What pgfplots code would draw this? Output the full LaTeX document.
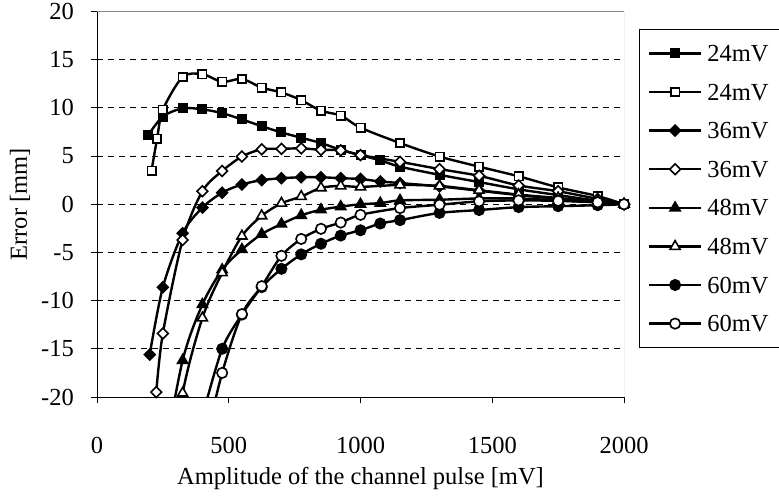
\documentclass[border=0pt]{standalone}
\usepackage{fontspec}
\setmainfont{Liberation Serif}
\usepackage{pgfplots}
\pgfplotsset{compat=1.18}
\newcommand\cf{\fontsize{24.5}{29}\selectfont}
\tikzset{
 s1/.style={black, line width=2.4pt, mark=square*, mark size=4.2pt, mark options={solid, line width=1.6pt, fill=black}},
 s2/.style={black, line width=2.4pt, mark=square*, mark size=4.2pt, mark options={solid, line width=1.6pt, fill=white}},
 s3/.style={black, line width=2.4pt, mark=square*, mark size=3.8pt, mark options={solid, line width=1.6pt, fill=black, rotate=45}},
 s4/.style={black, line width=2.4pt, mark=square*, mark size=3.8pt, mark options={solid, line width=1.6pt, fill=white, rotate=45}},
 s5/.style={black, line width=2.4pt, mark=triangle*, mark size=5.8pt, mark options={solid, line width=1.6pt, fill=black}},
 s6/.style={black, line width=2.4pt, mark=triangle*, mark size=5.8pt, mark options={solid, line width=1.6pt, fill=white}},
 s7/.style={black, line width=2.4pt, mark=*, mark size=5.2pt, mark options={solid, line width=1.6pt, fill=black}},
 s8/.style={black, line width=2.4pt, mark=*, mark size=5.2pt, mark options={solid, line width=1.6pt, fill=white}},
}
\begin{document}
\begin{tikzpicture}[x=1pt,y=1pt,font=\cf]
\useasboundingbox (0,0) rectangle (779,499);
\begin{axis}[
 at={(97pt,102pt)}, anchor=south west,
 scale only axis, width=527pt, height=385.5pt,
 xmin=0, xmax=2000, ymin=-20, ymax=20,
 xtick={0,500,1000,1500,2000}, ytick={-20,-15,...,20},
 minor ytick={-15,-10,...,15}, yminorgrids,
 minor grid style={black, line width=0.8pt, dash pattern=on 6pt off 5pt},
 minor tick length=0pt,
 axis lines*=left,
 axis line style={black, line width=1pt, -},
 tick align=outside, major tick length=6pt,
 tick style={black, line width=1pt},
 scaled ticks=false,
 /pgf/number format/1000 sep={},
 /pgf/number format/assume math mode=true,
 xticklabel style={inner sep=0pt, anchor=north},
 yticklabel style={inner sep=0pt, anchor=east},
 xticklabel shift=34pt,
 yticklabel shift=17pt,
 xlabel={Amplitude of the channel pulse [mV]},
 ylabel={Error [mm]},
 every axis x label/.style={at={(rel axis cs:0.5,0)}, anchor=center, yshift=-81pt},
 every axis y label/.style={at={(rel axis cs:0,0.5)}, xshift=-77pt, rotate=90, anchor=center},
 clip marker paths=false,
 legend style={at={(1,1)}, anchor=north west, xshift=15pt, yshift=-17.5pt, draw=black, line width=0.8pt, inner xsep=8.5pt, inner ysep=16pt, row sep=22.6pt, font=\cf, nodes={inner xsep=5pt, inner ysep=0pt, text height=16pt, text depth=0pt}},
 legend cell align=left,
 legend image code/.code={\draw[#1, mark repeat=2, mark phase=2] plot coordinates {(0pt,0pt) (26pt,0pt) (52pt,0pt)};},
]
\draw[black!45, line width=1pt] (rel axis cs:0,1) -- (rel axis cs:1,1) -- (rel axis cs:1,0);

\addlegendimage{s1}\addlegendentry{\makebox[60pt][l]{24mV}}
\addlegendimage{s2}\addlegendentry{\makebox[60pt][l]{24mV}}
\addlegendimage{s3}\addlegendentry{\makebox[60pt][l]{36mV}}
\addlegendimage{s4}\addlegendentry{\makebox[60pt][l]{36mV}}
\addlegendimage{s5}\addlegendentry{\makebox[60pt][l]{48mV}}
\addlegendimage{s6}\addlegendentry{\makebox[60pt][l]{48mV}}
\addlegendimage{s7}\addlegendentry{\makebox[60pt][l]{60mV}}
\addlegendimage{s8}\addlegendentry{\makebox[60pt][l]{60mV}}

% 24mV filled squares
\addplot[s1, no markers, smooth, forget plot] coordinates {(195,7.2)(250,9.1)(325,9.95)(400,9.85)(475,9.45)(550,8.8)(625,8.1)(700,7.45)(775,6.9)(850,6.35)(925,5.65)(1000,5.1)(1075,4.55)(1150,3.9)(1300,3.05)(1450,2.3)(1600,1.55)(1750,0.95)(1900,0.35)(2000,0)};
\addplot[s1, only marks, forget plot, restrict y to domain=-20.5:20.5] coordinates {(195,7.2)(250,9.1)(325,9.95)(400,9.85)(475,9.45)(550,8.8)(625,8.1)(700,7.45)(775,6.9)(850,6.35)(925,5.65)(1000,5.1)(1075,4.55)(1150,3.9)(1300,3.05)(1450,2.3)(1600,1.55)(1750,0.95)(1900,0.35)(2000,0)};
% 24mV open squares
\addplot[s2, no markers, smooth, forget plot] coordinates {(207,3.5)(228,6.8)(250,9.8)(325,13.2)(400,13.5)(475,12.7)(550,13.0)(625,12.1)(700,11.6)(775,10.8)(850,9.7)(925,9.2)(1000,7.95)(1150,6.35)(1300,4.95)(1450,3.9)(1600,2.9)(1750,1.75)(1900,0.85)(2000,0)};
\addplot[s2, only marks, forget plot, restrict y to domain=-20.5:20.5] coordinates {(207,3.5)(228,6.8)(250,9.8)(325,13.2)(400,13.5)(475,12.7)(550,13.0)(625,12.1)(700,11.6)(775,10.8)(850,9.7)(925,9.2)(1000,7.95)(1150,6.35)(1300,4.95)(1450,3.9)(1600,2.9)(1750,1.75)(1900,0.85)(2000,0)};
% 36mV filled diamonds
\addplot[s3, no markers, smooth, forget plot] coordinates {(200,-15.6)(250,-8.6)(325,-3.0)(400,-0.35)(475,1.2)(550,2.05)(625,2.5)(700,2.7)(775,2.8)(850,2.8)(925,2.7)(1000,2.62)(1075,2.36)(1150,2.2)(1300,1.85)(1450,1.4)(1600,0.95)(1750,0.55)(1900,0.2)(2000,0)};
\addplot[s3, only marks, forget plot, restrict y to domain=-20.5:20.5] coordinates {(200,-15.6)(250,-8.6)(325,-3.0)(400,-0.35)(475,1.2)(550,2.05)(625,2.5)(700,2.7)(775,2.8)(850,2.8)(925,2.7)(1000,2.62)(1075,2.36)(1150,2.2)(1300,1.85)(1450,1.4)(1600,0.95)(1750,0.55)(1900,0.2)(2000,0)};
% 36mV open diamonds
\addplot[s4, no markers, smooth, forget plot] coordinates {(225,-19.5)(250,-13.4)(325,-3.7)(400,1.35)(475,3.45)(550,4.95)(625,5.7)(700,5.75)(775,5.8)(850,5.65)(925,5.6)(1000,5.1)(1150,4.4)(1300,3.65)(1450,2.95)(1600,1.95)(1750,1.35)(1900,0.55)(2000,0)};
\addplot[s4, only marks, forget plot, restrict y to domain=-20.5:20.5] coordinates {(225,-19.5)(250,-13.4)(325,-3.7)(400,1.35)(475,3.45)(550,4.95)(625,5.7)(700,5.75)(775,5.8)(850,5.65)(925,5.6)(1000,5.1)(1150,4.4)(1300,3.65)(1450,2.95)(1600,1.95)(1750,1.35)(1900,0.55)(2000,0)};
% 48mV filled triangles
\addplot[s5, no markers, smooth, forget plot] coordinates {(250,-27)(325,-16.2)(400,-10.4)(475,-6.8)(550,-4.7)(625,-3.1)(700,-2.05)(775,-1.15)(850,-0.57)(925,-0.25)(1000,0.0)(1075,0.12)(1150,0.4)(1300,0.47)(1450,0.6)(1600,0.6)(1750,0.4)(1900,0.2)(2000,0)};
\addplot[s5, only marks, forget plot, restrict y to domain=-20.5:20.5] coordinates {(250,-27)(325,-16.2)(400,-10.4)(475,-6.8)(550,-4.7)(625,-3.1)(700,-2.05)(775,-1.15)(850,-0.57)(925,-0.25)(1000,0.0)(1075,0.12)(1150,0.4)(1300,0.47)(1450,0.6)(1600,0.6)(1750,0.4)(1900,0.2)(2000,0)};
% 48mV open triangles
\addplot[s6, no markers, smooth, forget plot] coordinates {(250,-33)(325,-19.6)(400,-11.8)(475,-7.1)(550,-3.3)(625,-1.2)(700,0.1)(775,0.8)(850,1.7)(925,1.9)(1000,1.8)(1150,2.0)(1300,1.9)(1450,1.45)(1600,1.0)(1750,0.65)(1900,0.3)(2000,0)};
\addplot[s6, only marks, forget plot, restrict y to domain=-20.5:20.5] coordinates {(250,-33)(325,-19.6)(400,-11.8)(475,-7.1)(550,-3.3)(625,-1.2)(700,0.1)(775,0.8)(850,1.7)(925,1.9)(1000,1.8)(1150,2.0)(1300,1.9)(1450,1.45)(1600,1.0)(1750,0.65)(1900,0.3)(2000,0)};
% 60mV filled circles
\addplot[s7, no markers, smooth, forget plot] coordinates {(400,-22)(475,-15.0)(550,-11.45)(625,-8.6)(700,-6.7)(775,-5.2)(850,-4.1)(925,-3.25)(1000,-2.7)(1075,-2.0)(1150,-1.65)(1300,-0.9)(1450,-0.6)(1600,-0.3)(1750,-0.2)(1900,-0.1)(2000,0)};
\addplot[s7, only marks, forget plot, restrict y to domain=-20.5:20.5] coordinates {(400,-22)(475,-15.0)(550,-11.45)(625,-8.6)(700,-6.7)(775,-5.2)(850,-4.1)(925,-3.25)(1000,-2.7)(1075,-2.0)(1150,-1.65)(1300,-0.9)(1450,-0.6)(1600,-0.3)(1750,-0.2)(1900,-0.1)(2000,0)};
% 60mV open circles
\addplot[s8, no markers, smooth, forget plot] coordinates {(400,-26)(475,-17.5)(550,-11.4)(625,-8.5)(700,-5.35)(775,-3.6)(850,-2.55)(925,-1.9)(1000,-1.1)(1150,-0.4)(1300,-0.05)(1450,0.3)(1600,0.4)(1750,0.35)(1900,0.2)(2000,0)};
\addplot[s8, only marks, forget plot, restrict y to domain=-20.5:20.5] coordinates {(400,-26)(475,-17.5)(550,-11.4)(625,-8.5)(700,-5.35)(775,-3.6)(850,-2.55)(925,-1.9)(1000,-1.1)(1150,-0.4)(1300,-0.05)(1450,0.3)(1600,0.4)(1750,0.35)(1900,0.2)(2000,0)};
\end{axis}
\end{tikzpicture}
\end{document}
